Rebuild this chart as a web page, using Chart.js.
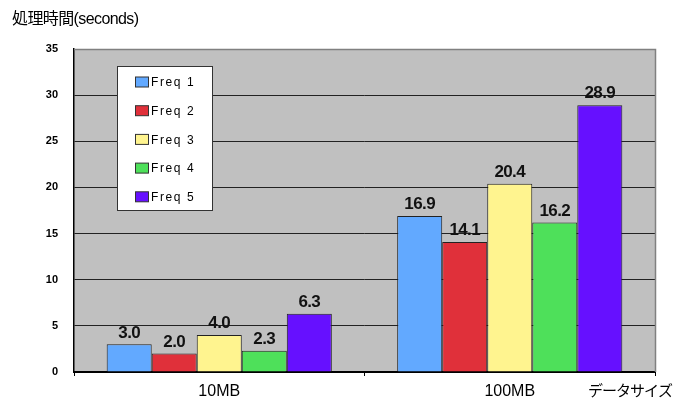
<!DOCTYPE html>
<html><head><meta charset="utf-8">
<script src="https://cdn.jsdelivr.net/npm/chart.js@4/dist/chart.umd.min.js"></script>
<style>html,body{margin:0;padding:0;background:#fff}#wrap{width:685px;height:399px}</style>
</head><body><div id="wrap"><canvas id="c" width="685" height="399"></canvas></div>
<script>
const categories = ["10MB", "100MB"];
const seriesNames = ["Freq 1", "Freq 2", "Freq 3", "Freq 4", "Freq 5"];
const freq1 = [3.0, 16.9];
const freq2 = [2.0, 14.1];
const freq3 = [4.0, 20.4];
const freq4 = [2.3, 16.2];
const freq5 = [6.3, 28.9];
const yTicks = [0, 5, 10, 15, 20, 25, 30, 35];
const colors = ["#62A9FF", "#E0303A", "#FFF48F", "#4EE05A", "#6610FF"];
const yTitle = "処理時間(seconds)";
const xTitle = "データサイズ";

const seriesValues = [freq1, freq2, freq3, freq4, freq5];
const datasets = seriesNames.map((n, i) => ({
  label: n, data: seriesValues[i], backgroundColor: colors[i],
  borderColor: "#222", borderWidth: 1,
  barPercentage: 1.0, categoryPercentage: 0.775
}));

const decor = {
  id: "decor",
  beforeDraw(chart) {
    const {ctx, chartArea: a} = chart;
    ctx.save();
    ctx.fillStyle = "#C0C0C0";
    ctx.fillRect(a.left, a.top, a.right - a.left, a.bottom - a.top);
    ctx.restore();
  },
  afterDatasetsDraw(chart) {
    const {ctx, chartArea: a} = chart;
    ctx.save();
    // top and right borders
    ctx.strokeStyle = "#808080"; ctx.lineWidth = 1.5;
    ctx.beginPath();
    ctx.moveTo(a.left, a.top + 0.5); ctx.lineTo(a.right + 0.5, a.top + 0.5); ctx.lineTo(a.right + 0.5, a.bottom);
    ctx.stroke();
    // data labels
    ctx.fillStyle = "#111";
    ctx.font = "bold 17px 'Liberation Sans', Arial, sans-serif";
    ctx.textAlign = "center"; ctx.textBaseline = "bottom";
    ctx.letterSpacing = "-0.6px";
    chart.data.datasets.forEach((ds, i) => {
      const meta = chart.getDatasetMeta(i);
      meta.data.forEach((bar, j) => {
        ctx.fillText(ds.data[j].toFixed(1), bar.x, bar.y - 3);
      });
    });
    ctx.letterSpacing = "0px";
    // legend
    const lx = 117, ly = 66, lw = 95, lh = 144;
    ctx.fillStyle = "#fff"; ctx.fillRect(lx, ly, lw, lh);
    ctx.strokeStyle = "#333"; ctx.lineWidth = 1;
    ctx.strokeRect(lx + 0.5, ly + 0.5, lw, lh);
    ctx.font = "12px 'Liberation Sans', Arial, sans-serif";
    ctx.textAlign = "left"; ctx.textBaseline = "middle";
    ctx.letterSpacing = "1.6px";
    chart.data.datasets.forEach((ds, i) => {
      const cy = 82 + i * 28.7;
      ctx.fillStyle = ds.backgroundColor;
      ctx.fillRect(135.5, cy - 5, 13, 10);
      ctx.strokeStyle = "#333"; ctx.strokeRect(135.5, cy - 5, 13, 10);
      ctx.fillStyle = "#000";
      ctx.fillText(ds.label, 151, cy + 1);
    });
    ctx.letterSpacing = "0px";
    // titles
    ctx.fillStyle = "#000";
    ctx.font = "16px 'Liberation Sans', 'Noto Sans CJK JP', sans-serif";
    ctx.textAlign = "left"; ctx.textBaseline = "middle";
    ctx.letterSpacing = "-0.6px";
    ctx.fillText(yTitle, 12, 20);
    ctx.font = "15px 'Noto Sans CJK JP', sans-serif";
    ctx.letterSpacing = "-1px";
    ctx.fillText(xTitle, 588, 390);
    ctx.restore();
  }
};

new Chart(document.getElementById("c"), {
  type: "bar",
  data: { labels: categories, datasets },
  options: {
    responsive: false, animation: false, devicePixelRatio: 1,
    layout: { padding: { top: 49, right: 30, left: 0, bottom: 0 } },
    plugins: { legend: { display: false }, tooltip: { enabled: false } },
    scales: {
      x: {
        grid: { display: true, drawOnChartArea: false, tickLength: 4, color: "#000", offset: true },
        border: { color: "#000", width: 2 },
        ticks: { color: "#000", font: { family: "'Liberation Sans', Arial, sans-serif", size: 16 }, padding: 6 },
        afterFit(s) { s.height = 27; }
      },
      y: {
        min: 0, max: 35,
        afterBuildTicks(s) { s.ticks = yTicks.map(v => ({ value: v })); },
        grid: {
          tickLength: 0,
          color: c => (c.tick && c.tick.value === 35) ? "rgba(0,0,0,0)" : "#222",
          lineWidth: 1
        },
        border: { color: "#000", width: 1.5 },
        ticks: { color: "#000", font: { family: "'Liberation Sans', Arial, sans-serif", size: 11, weight: "bold" }, padding: 16 },
        afterFit(s) { s.width = 74; }
      }
    }
  },
  plugins: [decor]
});
</script>
</body></html>
